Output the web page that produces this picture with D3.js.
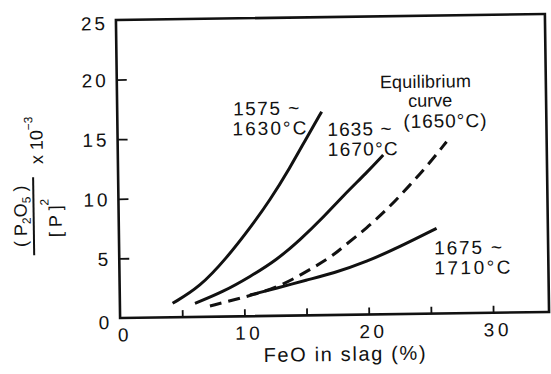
<!DOCTYPE html>
<html>
<head>
<meta charset="utf-8">
<script src="https://cdn.jsdelivr.net/npm/d3@7"></script>
<style>
  html, body { margin: 0; padding: 0; background: #fff; }
  svg { display: block; }
  text { font-family: "Liberation Sans", "DejaVu Sans", sans-serif; fill: #111; }
</style>
</head>
<body>
<svg id="chart" width="551" height="374"></svg>
<script>
// FeO content of slag (%) against the phosphorus distribution ratio (×10^-3)
const feo1575 = [4.24, 6.45, 8.63, 10.55, 12.18, 13.83, 15.2, 16.44];
const ratio1575 = [1.17, 2.5, 4.9, 7.4, 9.7, 12.4, 14.9, 17.07];

const feo1635 = [6.04, 8.33, 10.49, 12.65, 14.55, 16.45, 18.08, 19.99, 21.34];
const ratio1635 = [1.14, 2.08, 3.31, 4.68, 6.33, 8.2, 10.0, 11.9, 13.36];

const feo1675 = [10.47, 12.62, 15.04, 17.19, 19.89, 22.58, 25.55];
const ratio1675 = [1.78, 2.31, 2.97, 3.5, 4.43, 5.65, 7.15];

const feoEq = [7.24, 9.66, 12.62, 15.05, 17.08, 18.02, 19.92, 21.82, 23.45, 24.82, 26.45];
const ratioEq = [0.9, 1.51, 2.31, 3.67, 4.89, 5.72, 7.23, 9.02, 10.81, 12.33, 14.4];

const xTicks = [0, 5, 10, 15, 20, 25, 30];
const xTickLabels = ["0", "", "10", "", "20", "", "30"];
const yTicks = [0, 5, 10, 15, 20, 25];
const yTickLabels = ["0", "5", "10", "15", "20", "25"];

const xMax = 34.5, yMax = 25;

const svg = d3.select("#chart");
// whole figure sits slightly tilted on the page
const root = svg.append("g").attr("transform", "rotate(-0.8 333 167)");

const x = d3.scaleLinear().domain([0, xMax]).range([118, 547]);
const y = d3.scaleLinear().domain([0, yMax]).range([315, 17]);

// frame
root.append("rect")
  .attr("x", x(0)).attr("y", y(yMax))
  .attr("width", x(xMax) - x(0)).attr("height", y(0) - y(yMax))
  .attr("fill", "none").attr("stroke", "#111").attr("stroke-width", 2.6);

// bottom axis: short inward ticks
const xAxis = d3.axisBottom(x)
  .tickValues(xTicks)
  .tickSizeInner(-7).tickSizeOuter(0).tickPadding(10)
  .tickFormat((d, i) => xTickLabels[i]);
const gx = root.append("g").attr("transform", `translate(0,${y(0)})`).call(xAxis);
gx.select(".domain").remove();
gx.selectAll(".tick line").attr("stroke", "#111").attr("stroke-width", 1.8)
  .filter(d => d === 0).remove();
gx.selectAll(".tick text").attr("font-size", 19).attr("letter-spacing", 3.5)
  .attr("font-family", "Liberation Sans").attr("fill", "#111")
  .attr("dx", 4);

// left axis: inward ticks
const yAxis = d3.axisLeft(y)
  .tickValues(yTicks)
  .tickSizeInner(-10).tickSizeOuter(0).tickPadding(8)
  .tickFormat((d, i) => yTickLabels[i]);
const gy = root.append("g").attr("transform", `translate(${x(0)},0)`).call(yAxis);
gy.select(".domain").remove();
gy.selectAll(".tick line").attr("stroke", "#111").attr("stroke-width", 1.8)
  .filter(d => d === 0 || d === yMax).remove();
gy.selectAll(".tick text").attr("font-size", 19).attr("letter-spacing", 3)
  .attr("font-family", "Liberation Sans").attr("fill", "#111")
  .attr("dy", d => d === 0 ? "0.55em" : (d === yMax ? "0.5em" : "0.36em"));

// curves
const line = d3.line().x(d => x(d[0])).y(d => y(d[1])).curve(d3.curveBasis);
const series = [
  { xs: feo1575, ys: ratio1575, dash: null },
  { xs: feo1635, ys: ratio1635, dash: null },
  { xs: feo1675, ys: ratio1675, dash: null },
  { xs: feoEq, ys: ratioEq, dash: "12,7" }
];
series.forEach(s => {
  root.append("path")
    .datum(d3.zip(s.xs, s.ys))
    .attr("d", line)
    .attr("fill", "none")
    .attr("stroke", "#111")
    .attr("stroke-width", 3)
    .attr("stroke-dasharray", s.dash);
});

// curve labels
const labels = [
  { t: "1575 ~", x: 234, y: 114, fs: 19, w: 66 },
  { t: "1630°C", x: 233, y: 134, fs: 19, w: 74 },
  { t: "1635 ~", x: 328, y: 136, fs: 19, w: 64 },
  { t: "1670°C", x: 328, y: 156, fs: 19, w: 70 },
  { t: "Equilibrium", x: 381, y: 89, fs: 18, w: 91 },
  { t: "curve", x: 409, y: 108, fs: 18, w: 44 },
  { t: "(1650°C)", x: 404, y: 129, fs: 19, w: 83 },
  { t: "1675 ~", x: 433, y: 256, fs: 19, w: 68 },
  { t: "1710°C", x: 433, y: 276, fs: 19, w: 76 }
];
labels.forEach(l => {
  root.append("text").attr("x", l.x).attr("y", l.y)
    .attr("font-size", l.fs)
    .attr("textLength", l.w).attr("lengthAdjust", "spacing")
    .text(l.t);
});

// x axis title
root.append("text")
  .attr("x", 261).attr("y", 361)
  .attr("font-size", 20)
  .attr("textLength", 162).attr("lengthAdjust", "spacing")
  .text("FeO in slag (%)");

// y axis title: (P2O5)/[P]^2 × 10^-3, rotated
const yt = root.append("g").attr("transform", "translate(34,212) rotate(-90)");
const num = yt.append("text").attr("x", 0).attr("y", -8)
  .attr("text-anchor", "middle").attr("font-size", 18);
num.append("tspan").text("( P");
num.append("tspan").attr("font-size", 12).attr("dy", 4).text("2");
num.append("tspan").attr("dy", -4).text("O");
num.append("tspan").attr("font-size", 12).attr("dy", 4).text("5");
num.append("tspan").attr("dy", -4).text(" )");

yt.append("line").attr("x1", -39).attr("x2", 39).attr("y1", -1).attr("y2", -1)
  .attr("stroke", "#111").attr("stroke-width", 2);

const den = yt.append("text").attr("x", -2).attr("y", 27)
  .attr("text-anchor", "middle").attr("font-size", 18);
den.append("tspan").text("[ P ]");
den.append("tspan").attr("font-size", 12).attr("dy", -13).text("2");

const mult = yt.append("text").attr("x", 52).attr("y", 9).attr("font-size", 18);
mult.append("tspan").text("x 10");
mult.append("tspan").attr("font-size", 12).attr("dy", -10).text("−3");
</script>
</body>
</html>
